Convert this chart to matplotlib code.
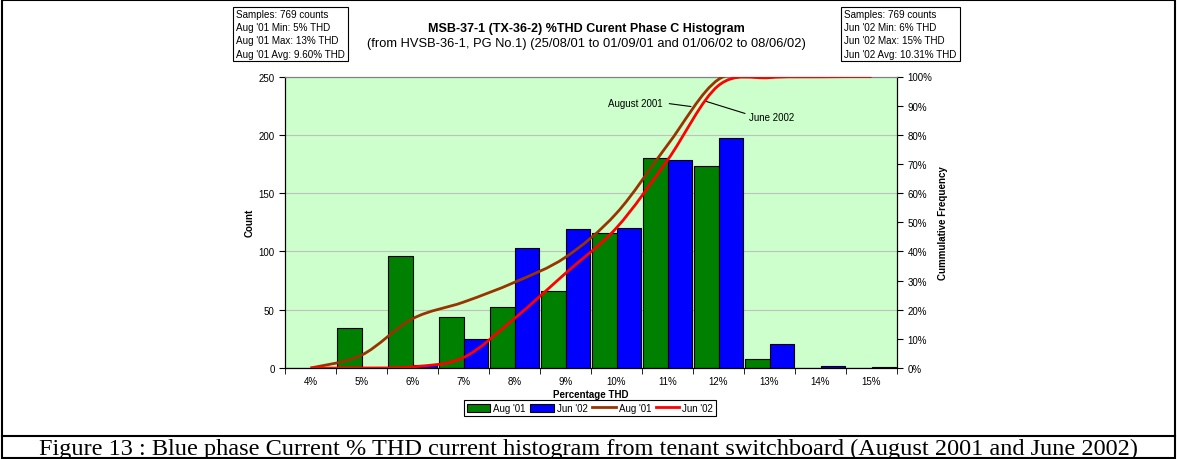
import matplotlib.pyplot as plt
from matplotlib.patches import Patch, Rectangle
from matplotlib.lines import Line2D
from matplotlib.path import Path
from matplotlib.patches import PathPatch
from matplotlib.ticker import PercentFormatter

plt.rcParams['font.family'] = ['Liberation Sans', 'DejaVu Sans']

# data
categories = ['4%', '5%', '6%', '7%', '8%', '9%', '10%', '11%', '12%', '13%', '14%', '15%']
count_aug = [0, 34, 96, 44, 52, 66, 116, 180, 173, 8, 0, 0]
count_jun = [0, 0, 3, 25, 103, 119, 120, 178, 197, 21, 2, 1]
cum_aug = [0, 0.044, 0.169, 0.226, 0.294, 0.380, 0.531, 0.765, 0.990, 1.0, 1.0, 1.0]
cum_jun = [0, 0, 0.004, 0.036, 0.170, 0.325, 0.481, 0.713, 0.969, 0.996, 0.999, 1.0]

box_aug = ["Samples: 769 counts", "Aug '01 Min: 5% THD", "Aug '01 Max: 13% THD", "Aug '01 Avg: 9.60% THD"]
box_jun = ["Samples: 769 counts", "Jun '02 Min: 6% THD", "Jun '02 Max: 15% THD", "Jun '02 Avg: 10.31% THD"]

W, H = 1177, 460
fs = 7


def smooth_path(xs, ys):
    # excel style smoothed line, cubic bezier through each point
    pts = list(zip(xs, ys))
    n = len(pts)
    verts = [pts[0]]
    codes = [Path.MOVETO]
    for i in range(n - 1):
        p0 = pts[max(i - 1, 0)]
        p1 = pts[i]
        p2 = pts[i + 1]
        p3 = pts[min(i + 2, n - 1)]
        c1 = (p1[0] + (p2[0] - p0[0]) / 6, p1[1] + (p2[1] - p0[1]) / 6)
        c2 = (p2[0] - (p3[0] - p1[0]) / 6, p2[1] - (p3[1] - p1[1]) / 6)
        verts += [c1, c2, p2]
        codes += [Path.CURVE4] * 3
    return Path(verts, codes)


fig = plt.figure(figsize=(W / 100, H / 100), dpi=100)
ax = fig.add_axes([285 / W, 91 / H, 612 / W, 291.5 / H])
ax.set_facecolor('#CCFFCC')

x = list(range(len(categories)))
bw = 0.48
ax.bar([i - bw for i in x], count_aug, bw, align='edge', color='#008000', edgecolor='black', linewidth=0.8, zorder=2)
ax.bar(x, count_jun, bw, align='edge', color='#0000FF', edgecolor='black', linewidth=0.8, zorder=2)

ax.set_xlim(-0.5, len(categories) - 0.5)
ax.set_ylim(0, 250)
ax.set_yticks(range(0, 251, 50))
ax.yaxis.grid(True, color='#C0C0C0', linewidth=0.8, zorder=0)
ax.set_axisbelow(True)
ax.set_xticks(x)
ax.set_xticklabels(categories)
ax.set_xticks([i - 0.5 for i in x] + [len(x) - 0.5], minor=True)
ax.tick_params(axis='x', which='major', length=0, labelsize=fs, pad=6)
ax.tick_params(axis='x', which='minor', length=4, direction='out')
ax.tick_params(axis='y', labelsize=fs, length=4, direction='out')
ax.set_xlabel('Percentage THD', fontsize=fs, fontweight='bold', labelpad=2)
ax.set_ylabel('Count', fontsize=fs, fontweight='bold', labelpad=3)
ax.spines['top'].set_color('#808080')
ax.spines['right'].set_color('black')

ax2 = ax.twinx()
ax2.set_ylim(0, 1)
ax2.set_yticks([i / 10 for i in range(11)])
ax2.yaxis.set_major_formatter(PercentFormatter(1.0, decimals=0))
ax2.tick_params(axis='y', labelsize=fs, length=4, direction='out')
ax2.set_ylabel('Cummulative Frequency', fontsize=fs, fontweight='bold', labelpad=4)
ax2.spines['top'].set_color('#808080')
ax2.add_patch(PathPatch(smooth_path(x, cum_aug), fill=False, edgecolor='#993300', linewidth=2, zorder=3))
ax2.add_patch(PathPatch(smooth_path(x, cum_jun), fill=False, edgecolor='#FF0000', linewidth=2, zorder=4))

ax2.annotate('August 2001', xy=(7.46, 0.897), xytext=(6.9, 0.91), ha='right', va='center', fontsize=fs,
             arrowprops=dict(arrowstyle='-', color='black', lw=0.8, relpos=(1, 0.5), shrinkA=3, shrinkB=0))
ax2.annotate('June 2002', xy=(7.75, 0.915), xytext=(8.6, 0.862), ha='left', va='center', fontsize=fs,
             arrowprops=dict(arrowstyle='-', color='black', lw=0.8, relpos=(0, 0.7), shrinkA=1, shrinkB=0))

fig.text(586 / W, 1 - 29 / H, 'MSB-37-1 (TX-36-2) %THD Curent Phase C Histogram', ha='center', va='center',
         fontsize=9, fontweight='bold')
fig.text(586 / W, 1 - 44 / H, '(from HVSB-36-1, PG No.1) (25/08/01 to 01/09/01 and 01/06/02 to 08/06/02)',
         ha='center', va='center', fontsize=9.3)

# stats boxes
for left, right, lines in [(233, 348, box_aug), (841, 960, box_jun)]:
    fig.add_artist(Rectangle((left / W, 1 - 61.5 / H), (right - left) / W, 54 / H, transform=fig.transFigure,
                             fill=False, edgecolor='black', linewidth=0.8))
    for k, s in enumerate(lines):
        fig.text((left + 2.5) / W, 1 - (15 + 13.2 * k) / H, s, ha='left', va='center', fontsize=7.1)

handles = [Patch(facecolor='#008000', edgecolor='black', linewidth=0.8),
           Patch(facecolor='#0000FF', edgecolor='black', linewidth=0.8),
           Line2D([], [], color='#993300', linewidth=2),
           Line2D([], [], color='#FF0000', linewidth=2)]
leg = fig.legend(handles, ["Aug '01", "Jun '02", "Aug '01", "Jun '02"], loc='center', ncol=4,
                 bbox_to_anchor=(590 / W, 1 - 409 / H), fontsize=fs, frameon=True, fancybox=False,
                 framealpha=1, edgecolor='black', borderpad=0.3, handlelength=2.4, handleheight=0.9,
                 handletextpad=0.3, columnspacing=0.5, borderaxespad=0)
leg.get_frame().set_linewidth(0.8)

# table cell frame and caption
fig.add_artist(Rectangle((2 / W, 1 / H), (W - 4) / W, (H - 2) / H, transform=fig.transFigure,
                         fill=False, edgecolor='black', linewidth=1.5))
fig.add_artist(Line2D([2 / W, (W - 2) / W], [1 - 437 / H, 1 - 437 / H], transform=fig.transFigure,
                      color='black', linewidth=1.5))
fig.text(0.5, 1 - 449 / H, 'Figure 13 : Blue phase Current % THD current histogram from tenant switchboard (August 2001 and June 2002)',
         ha='center', va='center', fontsize=17.5, family=['Liberation Serif', 'DejaVu Serif'])

fig.savefig('out.png', dpi=100)
